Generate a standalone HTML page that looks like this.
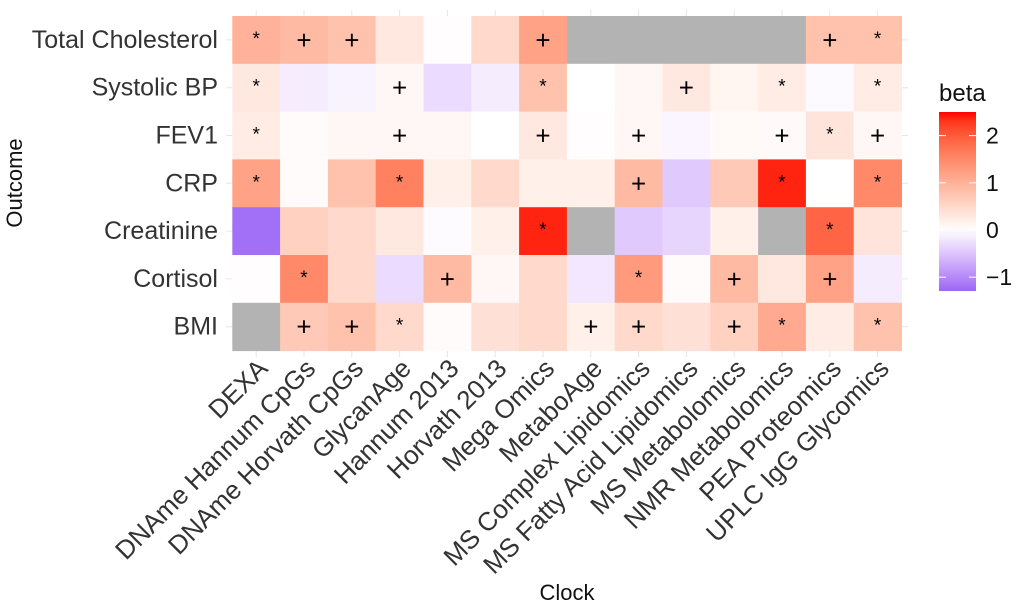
<!DOCTYPE html>
<html><head><meta charset="utf-8"><style>
body{margin:0;background:#fff;}
svg text{font-family:"Liberation Sans",Arial,sans-serif;}
</style></head><body>
<svg id="chart" width="1020" height="609" xmlns="http://www.w3.org/2000/svg">
<defs>
<linearGradient id="cb" x1="0" y1="0" x2="0" y2="1"></linearGradient>
</defs>
<g id="grid"></g>
<g id="tiles"></g>
<g id="marks"></g>
<g id="ylabels"></g>
<g id="xlabels"></g>
<text x="567" y="600" font-size="22" fill="#111" text-anchor="middle">Clock</text>
<text transform="translate(22,183) rotate(-90)" font-size="22" fill="#111" text-anchor="middle">Outcome</text>
<g>
<text x="939" y="101" font-size="24" fill="#111">beta</text>
<rect x="939" y="112" width="37" height="179" fill="url(#cb)"/>
<g id="legticks"></g>
</g>
</svg>
<script>
const clocks=["DEXA","DNAme Hannum CpGs","DNAme Horvath CpGs","GlycanAge","Hannum 2013","Horvath 2013","Mega Omics","MetaboAge","MS Complex Lipidomics","MS Fatty Acid Lipidomics","MS Metabolomics","NMR Metabolomics","PEA Proteomics","UPLC IgG Glycomics"];
const outcomes=["Total Cholesterol","Systolic BP","FEV1","CRP","Creatinine","Cortisol","BMI"];
const betaTC=[1.0,0.9,0.8,0.3,0.02,0.5,1.2,null,null,null,null,null,0.8,0.8];
const betaSBP=[0.3,-0.15,-0.1,0.1,-0.3,-0.15,0.8,0.0,0.1,0.3,0.12,0.25,-0.05,0.25];
const betaFEV1=[0.25,0.05,0.1,0.1,0.1,0.0,0.3,0.02,0.1,-0.08,0.08,0.06,0.35,0.1];
const betaCRP=[1.2,0.05,0.8,1.6,0.2,0.5,0.2,0.2,0.9,-0.45,0.7,2.4,0.0,1.5];
const betaCreat=[-1.2,0.6,0.5,0.3,-0.03,0.2,2.4,null,-0.45,-0.35,0.2,null,1.9,0.35];
const betaCort=[0.02,1.5,0.5,-0.3,0.9,0.1,0.5,-0.2,1.3,0.05,0.9,0.3,1.2,-0.15];
const betaBMI=[null,0.7,0.8,0.5,0.05,0.4,0.5,0.2,0.5,0.4,0.6,1.1,0.25,0.8];
const sigTC=["*","+","+","","","","+","","","","","","+","*"];
const sigSBP=["*","","","+","","","*","","","+","","*","","*"];
const sigFEV1=["*","","","+","","","+","","+","","","+","*","+"];
const sigCRP=["*","","","*","","","","","+","","","*","","*"];
const sigCreat=["","","","","","","*","","","","","","*",""];
const sigCort=["","*","","","+","","","","*","","+","","+",""];
const sigBMI=["","+","+","*","","","","+","+","","+","*","","*"];
const legendTicks=[2,1,0,-1];
const betas=[betaTC,betaSBP,betaFEV1,betaCRP,betaCreat,betaCort,betaBMI];
const sigs=[sigTC,sigSBP,sigFEV1,sigCRP,sigCreat,sigCort,sigBMI];

const NS="http://www.w3.org/2000/svg";
const x0=232.3,cw=47.8,y0=16,rh=47.8;
const xPos=i=>x0+i*cw, yPos=j=>y0+j*rh;
const legY=v=>230-v*47.2;
function s2l(c){c/=255;return c<=0.04045?c/12.92:Math.pow((c+0.055)/1.055,2.4);}
function l2s(c){c=c<=0.0031308?12.92*c:1.055*Math.pow(c,1/2.4)-0.055;return Math.max(0,Math.min(255,Math.round(c*255)));}
function toLab(rgb){const [r,g,b]=rgb.map(s2l);
 let X=(r*0.4124+g*0.3576+b*0.1805)/0.95047,Y=r*0.2126+g*0.7152+b*0.0722,Z=(r*0.0193+g*0.1192+b*0.9505)/1.08883;
 const f=t=>t>0.008856?Math.cbrt(t):7.787*t+16/116;
 return [116*f(Y)-16,500*(f(X)-f(Y)),200*(f(Y)-f(Z))];}
function fromLab(L){const fy=(L[0]+16)/116,fx=fy+L[1]/500,fz=fy-L[2]/200;
 const fi=t=>t*t*t>0.008856?t*t*t:(t-16/116)/7.787;
 const X=fi(fx)*0.95047,Y=fi(fy),Z=fi(fz)*1.08883;
 const r=X*3.2406-Y*1.5372-Z*0.4986,g=-X*0.9689+Y*1.8758+Z*0.0415,b=X*0.0557-Y*0.2040+Z*1.0570;
 return [l2s(r),l2s(g),l2s(b)];}
const W=toLab([255,255,255]),R=toLab([255,0,0]),P=toLab([154,102,245]);
function col(v){
  if(v===null)return "#b3b3b3";
  let t,e;
  if(v>=0){t=Math.min(v/2.5,1);e=R;}else{t=Math.min(-v/1.28,1);e=P;}
  const c=fromLab(W.map((x,k)=>x+(e[k]-x)*t));
  return `rgb(${c[0]},${c[1]},${c[2]})`;
}
function mk(tag,attrs,parent){const e=document.createElementNS(NS,tag);for(const k in attrs)e.setAttribute(k,attrs[k]);parent.appendChild(e);return e;}
const grad=document.getElementById('cb');
for(let k=0;k<=20;k++){
  const v=2.5-k*(2.5+1.28)/20;
  mk('stop',{offset:k/20,'stop-color':col(v)},grad);
}
const grid=document.getElementById('grid'),tiles=document.getElementById('tiles'),marks=document.getElementById('marks');
clocks.forEach((c,i)=>{
  const l=mk('line',{x1:xPos(i)+cw/2,x2:xPos(i)+cw/2,y1:10,y2:357,stroke:'#e6e6e6','stroke-width':1},grid);
  
  
});
outcomes.forEach((o,j)=>{
  const l=mk('line',{x1:226,x2:908,y1:yPos(j)+rh/2,y2:yPos(j)+rh/2,stroke:'#e6e6e6','stroke-width':1},grid);
  
  
});
betas.forEach((row,j)=>{
  row.forEach((v,i)=>{
    const r=mk('rect',{x:xPos(i),y:yPos(j),width:cw+0.5,height:rh+0.5,fill:col(v)},tiles);
    
    
    const s=sigs[j][i];
    if(s){
      const t=mk('text',{x:xPos(i)+cw/2,y:yPos(j)+rh/2+(s==="*"?5:9),'text-anchor':'middle','font-size':s==="*"?19:26,fill:'#000'},marks);
      t.textContent=s;
      
      
    }
  });
});
const yl=document.getElementById('ylabels');
outcomes.forEach((o,j)=>{
  const t=mk('text',{x:218,y:yPos(j)+rh/2+8,'text-anchor':'end','font-size':25,fill:'#333'},yl);
  t.textContent=o;
  
  
});
const xl=document.getElementById('xlabels');
clocks.forEach((c,i)=>{
  const cx=xPos(i)+cw/2+13, cy=370;
  const t=mk('text',{x:cx,y:cy,'text-anchor':'end','font-size':26,fill:'#333',transform:`rotate(-45 ${cx} ${cy})`},xl);
  t.textContent=c;
  
  
});
const lt=document.getElementById('legticks');
legendTicks.forEach(v=>{
  const y=legY(v);
  const a=mk('line',{x1:939,x2:946,y1:y,y2:y,stroke:'#fff','stroke-width':1},lt);
  
  
  const b=mk('line',{x1:969,x2:976,y1:y,y2:y,stroke:'#fff','stroke-width':1},lt);
  
  
  const t=mk('text',{x:986,y:y+8,'font-size':23,fill:'#111'},lt);
  t.textContent=v<0?"\u2212"+(-v):String(v);
  
  
});
</script>
</body></html>
